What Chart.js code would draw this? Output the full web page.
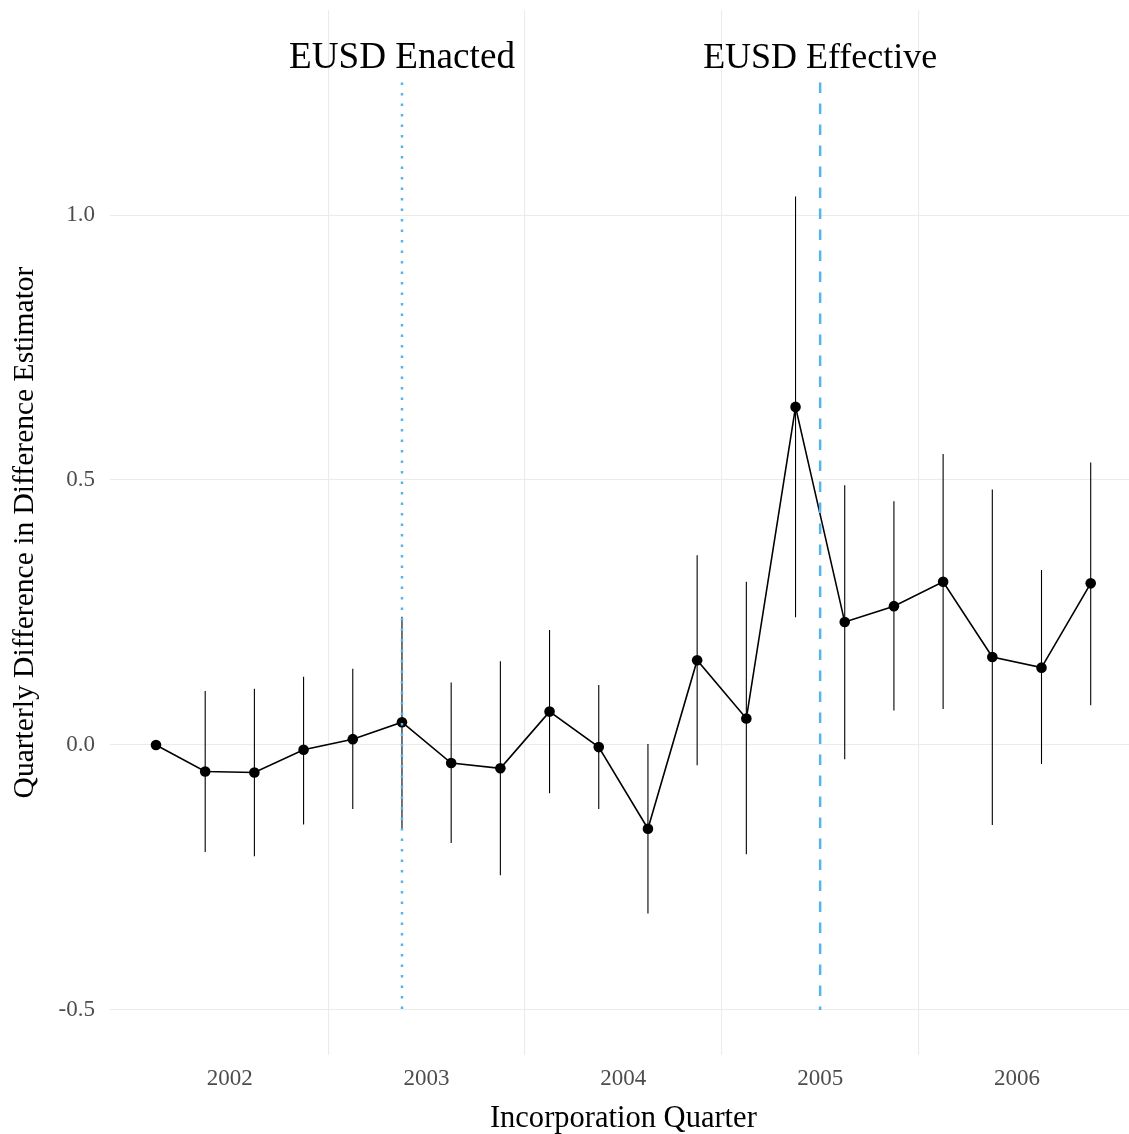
<!DOCTYPE html>
<html>
<head>
<meta charset="utf-8">
<title>Quarterly Difference in Difference Estimator</title>
<script src="https://cdn.jsdelivr.net/npm/chart.js@4/dist/chart.umd.min.js"></script>
<style>
  html, body { margin: 0; padding: 0; background: #ffffff; }
  #wrap { width: 1129px; height: 1134px; overflow: hidden; position: relative; }
  #wrap canvas { display: block; }
</style>
</head>
<body>
<div id="wrap"><canvas id="chart" width="1142" height="1134"></canvas></div>
<script>
// Incorporation quarters (one estimate per quarter)
const quarters = [
  '2001 Q3', '2001 Q4', '2002 Q1', '2002 Q2', '2002 Q3', '2002 Q4',
  '2003 Q1', '2003 Q2', '2003 Q3', '2003 Q4', '2004 Q1', '2004 Q2',
  '2004 Q3', '2004 Q4', '2005 Q1', '2005 Q2', '2005 Q3', '2005 Q4',
  '2006 Q1', '2006 Q2'
];

// Point estimates and confidence bounds (first quarter is the reference)
const estimates = [
  0.000, -0.050, -0.052, -0.009, 0.011, 0.043, -0.034, -0.044, 0.063, -0.004,
  -0.158, 0.160, 0.050, 0.638, 0.232, 0.262, 0.308, 0.166, 0.146, 0.305
];
const lowerBounds = [
  null, -0.202, -0.210, -0.150, -0.121, -0.157, -0.185, -0.246, -0.091, -0.121,
  -0.318, -0.038, -0.206, 0.241, -0.027, 0.065, 0.068, -0.151, -0.036, 0.075
];
const upperBounds = [
  null, 0.102, 0.106, 0.129, 0.144, 0.242, 0.118, 0.158, 0.217, 0.113,
  0.002, 0.358, 0.308, 1.035, 0.490, 0.460, 0.549, 0.482, 0.330, 0.533
];

// Axis ticks
const yearLabels = ['2002', '2003', '2004', '2005', '2006'];
const yTickValues = [-0.5, 0.0, 0.5, 1.0];
const yTickLabels = ['-0.5', '0.0', '0.5', '1.0'];

// Policy events
const eventLabels = ['EUSD Enacted', 'EUSD Effective'];
const eventQuarters = ['2002 Q4', '2005 Q1'];
const eventLineRange = [-0.5, 1.25];
const eventLabelY = 1.3;

// ---- derived positions on the quarter index scale ----
const qIndex = q => quarters.indexOf(q);
// a year starts half a quarter before its first quarter's midpoint
const yearStarts = yearLabels.map(y => qIndex(y + ' Q1') - 0.5);
const midYears = yearLabels.map(y => qIndex(y + ' Q3') - 0.5).filter(v => v >= 0);
const eventX = [qIndex(eventQuarters[0]), qIndex(eventQuarters[1]) - 0.5];

const pointData = estimates.map((v, i) => ({ x: i, y: v }));
const barData = [];
estimates.forEach((v, i) => {
  if (lowerBounds[i] === null) return;
  barData.push({ x: i, y: lowerBounds[i] });
  barData.push({ x: i, y: upperBounds[i] });
  barData.push({ x: i, y: null });
});

const SERIF = "'Liberation Serif', 'DejaVu Serif', serif";
const BLUE = '#56B4E9';
const GRID = '#ebebeb';

const xMin = -0.935, xMax = 19.935;

// Text sized to a target width
function fitFont(ctx, text, width) {
  ctx.font = '100px ' + SERIF;
  const w = ctx.measureText(text).width;
  return (100 * width / w);
}

// no extra room reserved for overhanging tick labels
function noOverhang(s) {
  s.paddingTop = 0; s.paddingBottom = 0;
  s.paddingLeft = 0; s.paddingRight = 0;
}

const labelsPlugin = {
  id: 'chartLabels',
  afterDraw(chart) {
    const ctx = chart.ctx;
    const xs = chart.scales.x, ys = chart.scales.y;
    const area = chart.chartArea;
    ctx.save();
    ctx.fillStyle = '#000000';
    // event annotations, caps centred on the label height
    const eventWidths = [226, 234];
    eventLabels.forEach((t, i) => {
      const size = fitFont(ctx, t, eventWidths[i]);
      ctx.font = size.toFixed(2) + 'px ' + SERIF;
      ctx.textAlign = 'center';
      ctx.textBaseline = 'alphabetic';
      ctx.fillText(t, xs.getPixelForValue(eventX[i]), ys.getPixelForValue(eventLabelY) + size * 0.33);
    });
    // x axis title
    const xt = 'Incorporation Quarter';
    ctx.font = fitFont(ctx, xt, 267).toFixed(2) + 'px ' + SERIF;
    ctx.textAlign = 'center';
    ctx.textBaseline = 'alphabetic';
    ctx.fillText(xt, (area.left + area.right) / 2, 1127);
    // y axis title
    const yt = 'Quarterly Difference in Difference Estimator';
    ctx.font = fitFont(ctx, yt, 532).toFixed(2) + 'px ' + SERIF;
    ctx.translate(33, (area.top + area.bottom) / 2);
    ctx.rotate(-Math.PI / 2);
    ctx.textAlign = 'center';
    ctx.textBaseline = 'alphabetic';
    ctx.fillText(yt, 0, 0);
    ctx.restore();
  }
};

new Chart(document.getElementById('chart'), {
  type: 'line',
  data: {
    datasets: [
      {
        label: eventLabels[0],
        data: [{ x: eventX[0], y: eventLineRange[1] }, { x: eventX[0], y: eventLineRange[0] }],
        borderColor: BLUE, borderWidth: 2.5, borderDash: [2.5, 8],
        pointRadius: 0, order: 0
      },
      {
        label: eventLabels[1],
        data: [{ x: eventX[1], y: eventLineRange[1] }, { x: eventX[1], y: eventLineRange[0] }],
        borderColor: BLUE, borderWidth: 2.5, borderDash: [10.5, 10.5],
        pointRadius: 0, order: 0
      },
      {
        label: 'Estimate',
        data: pointData,
        borderColor: '#000000', borderWidth: 1.6,
        pointRadius: 5.3, pointBackgroundColor: '#000000', pointBorderWidth: 0,
        order: 1
      },
      {
        label: 'Interval',
        data: barData,
        borderColor: '#000000', borderWidth: 1.1,
        pointRadius: 0, spanGaps: false,
        order: 2
      }
    ]
  },
  options: {
    responsive: false,
    animation: false,
    devicePixelRatio: 1,
    layout: { padding: { top: 10, right: 0, bottom: 0, left: 0 } },
    plugins: { legend: { display: false }, tooltip: { enabled: false } },
    elements: { line: { tension: 0 } },
    scales: {
      x: {
        type: 'linear', position: 'bottom', min: xMin, max: xMax,
        afterBuildTicks: s => { s.ticks = yearStarts.map(v => ({ value: v })); },
        afterFit: s => { s.height = 79; noOverhang(s); },
        ticks: {
          callback: (v, i) => yearLabels[i],
          font: { family: SERIF, size: 23 }, color: '#4d4d4d',
          padding: 10, maxRotation: 0, autoSkip: false
        },
        grid: { display: false, drawTicks: false },
        border: { display: false }
      },
      xGrid: {
        type: 'linear', position: 'bottom', min: xMin, max: xMax,
        afterBuildTicks: s => { s.ticks = midYears.map(v => ({ value: v })); },
        afterFit: s => { s.height = 0; noOverhang(s); },
        ticks: { display: false },
        grid: { color: GRID, lineWidth: 1.1, drawTicks: false },
        border: { display: false }
      },
      y: {
        type: 'linear', min: -0.585, max: 1.387,
        afterBuildTicks: s => { s.ticks = yTickValues.map(v => ({ value: v })); },
        afterFit: s => { s.width = 110; noOverhang(s); },
        ticks: {
          callback: (v, i) => yTickLabels[i],
          font: { family: SERIF, size: 23 }, color: '#4d4d4d',
          padding: 15
        },
        grid: { color: GRID, lineWidth: 1.1, drawTicks: false },
        border: { display: false }
      }
    }
  },
  plugins: [labelsPlugin]
});
</script>
</body>
</html>
